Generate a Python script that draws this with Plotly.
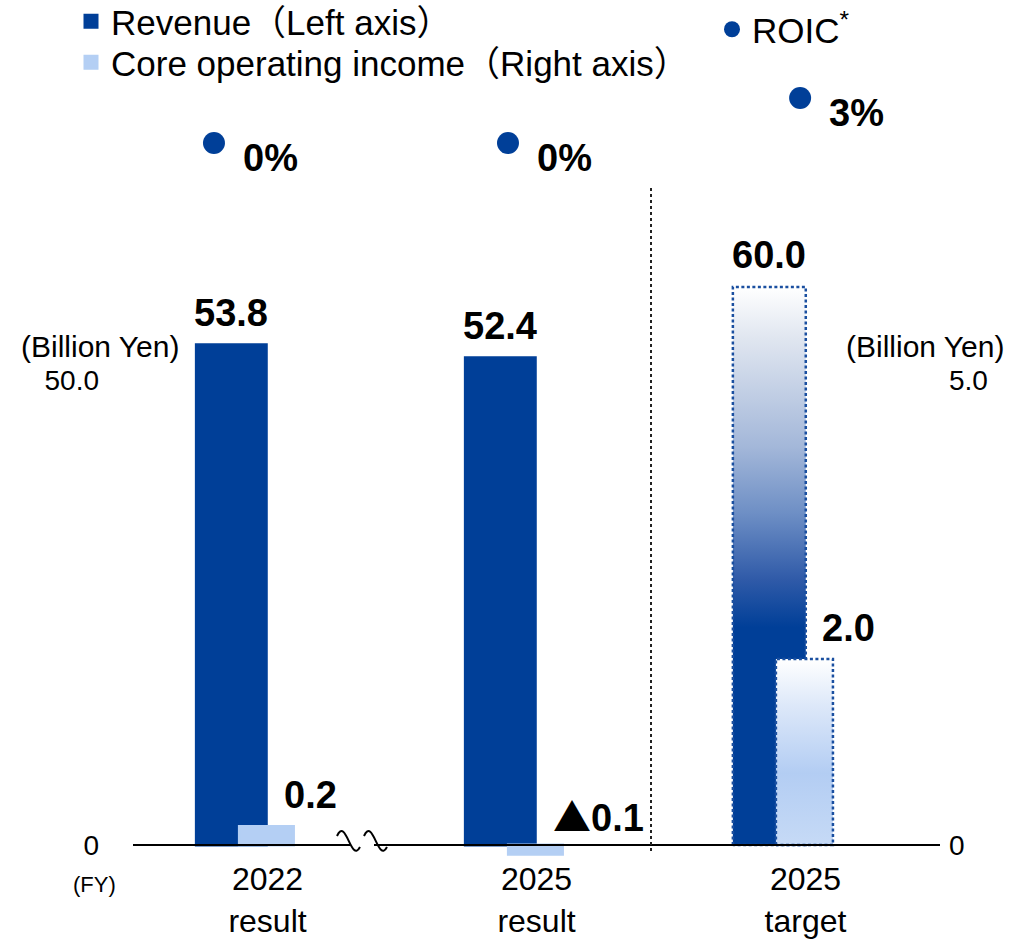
import plotly.graph_objects as go

# ---------------- data ----------------
categories = ["2022<br>result", "2025<br>result", "2025<br>target"]
revenue = [53.8, 52.4, 60.0]            # Billion Yen, left axis
core_income = [0.2, -0.1, 2.0]          # Billion Yen, right axis
roic = [0, 0, 3]                        # %
is_target = [False, False, True]
left_tick_vals = [0, 50]
left_tick_text = ["0", "50.0"]
right_tick_vals = [0, 5]
right_tick_text = ["0", "5.0"]

# ---------------- style / layout constants ----------------
DARK = "#003f98"
LIGHT = "#b4cff4"
BORDER = "#1a4fa0"
CLEAR = "rgba(0,0,0,0)"
FONT = "Liberation Sans, Arial, Noto Sans CJK JP, DejaVu Sans, sans-serif"

W, H = 1012, 939

# geometry in page pixels
PL, PR = 133, 940          # plot area left/right
PT, PB = 10, 856           # plot area top/bottom
BASE = 845                 # pixel row of zero
L_PX = 9.3                 # px per unit on left axis
R_PX = 93.0                # px per unit on right axis
ROIC_ZERO = 143            # pixel row of 0 %
ROIC_PX = 15.0             # px per % point
LINE_PAD = 1.5             # bar outline (px each side)

x_pos = list(range(len(categories)))
x_range = [-0.5, len(categories) - 0.5]
cat_px = (PR - PL) / (x_range[1] - x_range[0])

REV_OFF, REV_W = -0.27, 0.271
CORE_OFF, CORE_W = -0.11, 0.212
ROIC_DX = [-0.199, -0.106, -0.02]
pad_x = LINE_PAD / cat_px


def px_to_x(px):
    return (px - PL) / cat_px + x_range[0]


def py_to_yl(py):
    return (BASE - py) / L_PX


def paper_x(px):
    return (px - PL) / (PR - PL)


def paper_y(py):
    return (PB - py) / (PB - PT)


yl_range = [(BASE - PB) / L_PX, (BASE - PT) / L_PX]
yr_range = [(BASE - PB) / R_PX, (BASE - PT) / R_PX]
y3_range = [-(PB - ROIC_ZERO) / ROIC_PX, (ROIC_ZERO - PT) / ROIC_PX]

rev_colors = [CLEAR if t else DARK for t in is_target]
core_colors = [CLEAR if t else LIGHT for t in is_target]

fig = go.Figure()

fig.add_trace(go.Bar(
    x=x_pos, y=revenue, offset=REV_OFF + pad_x, width=REV_W - 2 * pad_x,
    marker=dict(color=rev_colors, line=dict(width=2 * LINE_PAD, color=rev_colors)),
    name="Revenue（Left axis）", yaxis="y", legend="legend",
))

for i, (v, t) in enumerate(zip(revenue, is_target)):
    if not t:
        continue
    x0 = x_pos[i] + REV_OFF
    x1 = x0 + REV_W
    fig.add_trace(go.Scatter(
        x=[x0, x0, x1, x1, x0], y=[0, v, v, 0, 0], mode="lines",
        fill="toself",
        fillgradient=dict(type="vertical", start=0, stop=v, colorscale=[
            [0.0, DARK], [0.39, DARK], [0.475, "#2f5aa8"], [0.595, "#6e8fc5"],
            [0.713, "#a3b7d9"], [0.908, "#e0e6f0"], [1.0, "#ffffff"]]),
        line=dict(color=BORDER, width=2.5, dash="3px,2.5px"),
        showlegend=False, hoverinfo="skip", yaxis="y",
    ))

fig.add_trace(go.Bar(
    x=x_pos, y=core_income, offset=CORE_OFF + pad_x, width=CORE_W - 2 * pad_x,
    marker=dict(color=core_colors, line=dict(width=2 * LINE_PAD, color=core_colors)),
    name="Core operating income（Right axis）", yaxis="y2", legend="legend3",
))

for i, (v, t) in enumerate(zip(core_income, is_target)):
    if not t:
        continue
    x0 = x_pos[i] + CORE_OFF
    x1 = x0 + CORE_W
    fig.add_trace(go.Scatter(
        x=[x0, x0, x1, x1, x0], y=[0, v, v, 0, 0], mode="lines",
        fill="toself",
        fillgradient=dict(type="vertical", start=0, stop=v, colorscale=[
            [0.0, "#c6daf6"], [0.387, "#b3cdf3"], [0.75, "#dde8f9"], [1.0, "#ffffff"]]),
        line=dict(color=BORDER, width=2.5, dash="3px,2.5px"),
        showlegend=False, hoverinfo="skip", yaxis="y2",
    ))

fig.add_trace(go.Scatter(
    x=[x_pos[i] + ROIC_DX[i] for i in range(len(roic))], y=roic,
    mode="markers", marker=dict(size=22, color=DARK),
    name="ROIC<sup>*</sup>", yaxis="y3", legend="legend2",
))

# ---------------- annotations ----------------
BOLD = dict(family=FONT, size=38, color="black", weight="bold")
ann = []
for i, v in enumerate(revenue):
    ann.append(dict(x=x_pos[i] + REV_OFF + REV_W / 2, y=v, xref="x", yref="y",
                    text=f"{v:.1f}", showarrow=False, yanchor="middle", yshift=32,
                    font=BOLD))
for i, v in enumerate(core_income):
    if v >= 0:
        txt = f"{v:.1f}"
    else:
        txt = (f"<span style=\"font-family:'Noto Sans CJK JP'\">▲</span>{abs(v):.1f}")
    ann.append(dict(x=x_pos[i] + CORE_OFF + CORE_W, y=max(v, 0), xref="x", yref="y2",
                    text=txt, showarrow=False, xanchor="left", xshift=-13,
                    yanchor="middle", yshift=31, font=BOLD))
for i, r in enumerate(roic):
    ann.append(dict(x=x_pos[i] + ROIC_DX[i], y=r, xref="x", yref="y3",
                    text=f"{r}%", showarrow=False, xanchor="left", xshift=27,
                    yanchor="middle", yshift=-15, font=BOLD))

ann.append(dict(x=paper_x(181), y=paper_y(347), xref="paper", yref="paper",
                text="(Billion Yen)", showarrow=False, xanchor="right", yanchor="middle",
                font=dict(family=FONT, size=30, color="black")))
ann.append(dict(x=paper_x(1006), y=paper_y(347), xref="paper", yref="paper",
                text="(Billion Yen)", showarrow=False, xanchor="right", yanchor="middle",
                font=dict(family=FONT, size=30, color="black")))
ann.append(dict(x=paper_x(94), y=paper_y(884), xref="paper", yref="paper",
                text="(FY)", showarrow=False, xanchor="center", yanchor="middle",
                font=dict(family=FONT, size=22, color="black")))

# ---------------- shapes ----------------
shapes = [
    dict(type="line", xref="x", yref="y", x0=x_range[0], x1=x_range[1], y0=0, y1=0,
         line=dict(color="black", width=2), layer="above"),
    dict(type="line", xref="x", yref="y", x0=px_to_x(651), x1=px_to_x(651),
         y0=py_to_yl(851), y1=py_to_yl(185),
         line=dict(color="#222222", width=2, dash="dot"), layer="above"),
    dict(type="rect", xref="x", yref="y", x0=px_to_x(350), x1=px_to_x(374),
         y0=py_to_yl(849), y1=py_to_yl(841), fillcolor="white",
         line=dict(width=0), layer="above"),
]
for dx in (0, 27):
    p = [(337 + dx, 836), (346 + dx, 816), (351 + dx, 864), (360 + dx, 847)]
    path = (f"M {px_to_x(p[0][0])},{py_to_yl(p[0][1])} "
            f"C {px_to_x(p[1][0])},{py_to_yl(p[1][1])} "
            f"{px_to_x(p[2][0])},{py_to_yl(p[2][1])} "
            f"{px_to_x(p[3][0])},{py_to_yl(p[3][1])}")
    shapes.append(dict(type="path", xref="x", yref="y", path=path,
                       line=dict(color="black", width=2), layer="above"))

plot_h = PB - PT
legend_common = dict(xref="paper", yref="paper", xanchor="left", yanchor="top",
                     orientation="v", bgcolor="rgba(0,0,0,0)",
                     font=dict(family=FONT, size=35, color="black"))


def legend_top(center_py):
    # legend item centre sits ~30 px below the legend's top edge
    return 1 + (PT - (center_py - 30)) / plot_h


fig.update_layout(
    width=W, height=H,
    margin=dict(l=PL, r=W - PR, t=PT, b=H - PB, pad=0, autoexpand=False),
    paper_bgcolor="white", plot_bgcolor="white",
    font=dict(family=FONT, color="black"),
    barmode="overlay",
    showlegend=True,
    xaxis=dict(type="linear", range=x_range, tickvals=x_pos, ticktext=categories,
               showgrid=False, zeroline=False, showline=False, ticks="",
               tickfont=dict(family=FONT, size=32, color="black"),
               ticklabelstandoff=1, automargin=False, tickangle=0),
    yaxis=dict(range=yl_range, tickvals=left_tick_vals, ticktext=left_tick_text,
               showgrid=False, zeroline=False, showline=False, ticks="",
               tickfont=dict(family=FONT, size=28, color="black"),
               ticklabelstandoff=33, automargin=False),
    yaxis2=dict(range=yr_range, tickvals=right_tick_vals, ticktext=right_tick_text,
                overlaying="y", side="right",
                showgrid=False, zeroline=False, showline=False, ticks="",
                tickfont=dict(family=FONT, size=28, color="black"),
                ticklabelstandoff=8, automargin=False),
    yaxis3=dict(range=y3_range, overlaying="y", visible=False),
    legend=dict(legend_common, x=paper_x(71), y=legend_top(22)),
    legend3=dict(legend_common, x=paper_x(71), y=legend_top(63)),
    legend2=dict(legend_common, x=paper_x(712), y=legend_top(30)),
    annotations=ann,
    shapes=shapes,
)

# remove the browser's default 8px body margin so the figure fills the window
fig.write_html("out.html", config={"displayModeBar": False},
               post_script="document.body.style.margin='0px';")
